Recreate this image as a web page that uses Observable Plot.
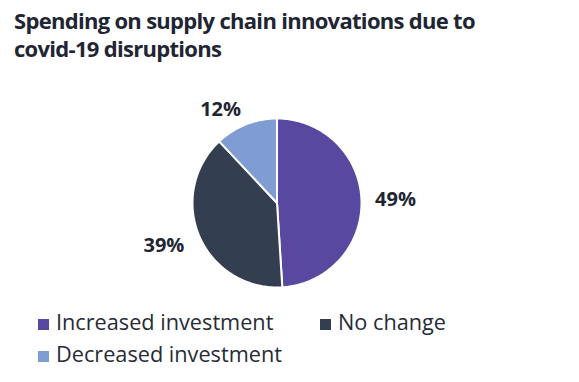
<!DOCTYPE html>
<html>
<head>
<meta charset="utf-8">
<script src="https://cdn.jsdelivr.net/npm/d3@7"></script>
<script src="https://cdn.jsdelivr.net/npm/@observablehq/plot@0.6"></script>
<style>
  html, body { margin: 0; padding: 0; background: #fff; }
  body { width: 579px; height: 382px; overflow: hidden; font-family: "Open Sans", sans-serif; }
  #title { margin: 6px 0 0 14px; font-size: 22px; font-weight: 700; line-height: 28px; color: #1f2533; width: 560px; letter-spacing: -0.7px; white-space: nowrap; }
  #chart svg { display: block; }
  #legend { margin: 4px 0 0 38px; display: grid; grid-template-columns: 282px 282px; font-size: 21.7px; line-height: 32px; color: #262b37; }
  #legend .sw { display: inline-block; width: 11px; height: 11px; margin-right: 7px; vertical-align: baseline; }
</style>
</head>
<body>
<div id="title">Spending on supply chain innovations due to<br>covid-19 disruptions</div>
<div id="chart"></div>
<div id="legend"></div>
<script>
const categories = ["Increased investment", "No change", "Decreased investment"];
const values = [49, 39, 12];
const colors = ["#5948a0", "#333f50", "#7f9dd3"];
const labels = ["49%", "39%", "12%"];

const pie = d3.pie().sort(null).value(d => d.value)(categories.map((c, i) => ({cat: c, value: values[i], label: labels[i]})));

// polygon points for each slice in unit-circle coordinates (angle clockwise from top)
const pts = [];
pie.forEach(p => {
  const cat = p.data.cat;
  pts.push({cat, x: 0, y: 0});
  const n = Math.max(2, Math.ceil((p.endAngle - p.startAngle) / (Math.PI / 180)));
  for (let k = 0; k <= n; k++) {
    const a = p.startAngle + (p.endAngle - p.startAngle) * k / n;
    pts.push({cat, x: Math.sin(a), y: Math.cos(a)});
  }
  pts.push({cat, x: 0, y: 0});
});

const R = 1.22;
const lab = pie.map(p => {
  const a = (p.startAngle + p.endAngle) / 2;
  return {label: p.data.label, x: R * Math.sin(a), y: R * Math.cos(a), right: Math.sin(a) >= 0};
});

const chart = Plot.plot({
  width: 579,
  height: 240,
  margin: 0,
  style: {fontFamily: "Open Sans, sans-serif", background: "#fff"},
  x: {domain: [-1, 1], range: [192, 361], axis: null},
  y: {domain: [-1, 1], range: [225, 56], axis: null},
  color: {domain: categories, range: colors},
  marks: [
    Plot.line(pts, {x: "x", y: "y", z: "cat", fill: "cat", stroke: "#fff", strokeWidth: 2, strokeLinejoin: "round"}),
    Plot.text(lab.filter(d => d.right), {x: "x", y: "y", text: "label", textAnchor: "start", dx: -5, fontSize: 20, fontWeight: 700, fill: "#1f2533"}),
    Plot.text(lab.filter(d => !d.right), {x: "x", y: "y", text: "label", textAnchor: "end", dx: 2, dy: 2, fontSize: 20, fontWeight: 700, fill: "#1f2533"})
  ]
});
document.getElementById("chart").appendChild(chart);

const legend = document.getElementById("legend");
categories.forEach((c, i) => {
  const div = document.createElement("div");
  const sw = document.createElement("span");
  sw.className = "sw";
  sw.style.background = colors[i];
  div.appendChild(sw);
  div.appendChild(document.createTextNode(c));
  legend.appendChild(div);
});
</script>
</body>
</html>
